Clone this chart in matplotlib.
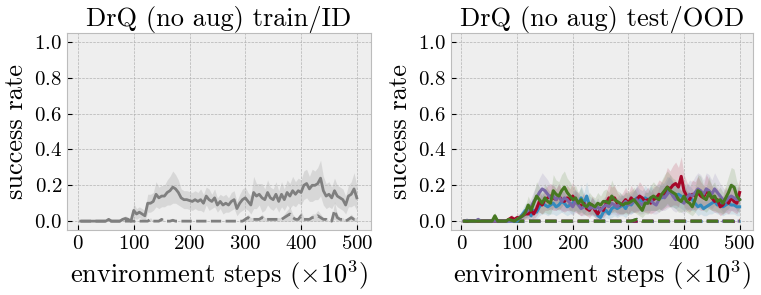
import numpy as np
import matplotlib.pyplot as plt

plt.style.use('bmh')
plt.rcParams['font.family'] = 'serif'
plt.rcParams['font.serif'] = ['cmr10']
plt.rcParams['mathtext.fontset'] = 'cm'
plt.rcParams['axes.formatter.use_mathtext'] = True

steps = np.arange(5, 505, 5)

# train / ID (gray)
train_mean = [0, 0, 0, 0, 0, 0, 0, 0, 0, 0,
              0.01, 0, 0, 0, 0, 0.01, 0.015, 0.01, 0, 0.06,
              0.04, 0.05, 0.04, 0.03, 0.10, 0.10, 0.11, 0.15, 0.13, 0.14,
              0.14, 0.16, 0.17, 0.19, 0.18, 0.16, 0.13, 0.12, 0.12, 0.115,
              0.11, 0.12, 0.11, 0.12, 0.10, 0.14, 0.12, 0.11, 0.13, 0.09,
              0.11, 0.09, 0.10, 0.09, 0.11, 0.12, 0.07, 0.10, 0.12, 0.13,
              0.11, 0.09, 0.16, 0.14, 0.15, 0.13, 0.12, 0.16, 0.13, 0.12,
              0.15, 0.11, 0.15, 0.12, 0.16, 0.14, 0.17, 0.15, 0.17, 0.16,
              0.20, 0.21, 0.18, 0.20, 0.20, 0.21, 0.24, 0.17, 0.14, 0.15,
              0.13, 0.17, 0.14, 0.13, 0.12, 0.09, 0.14, 0.15, 0.18, 0.13]
train_std = [0, 0, 0, 0, 0, 0, 0, 0, 0, 0,
             0.01, 0, 0, 0, 0, 0.01, 0.015, 0.01, 0, 0.04,
             0.03, 0.03, 0.03, 0.03, 0.05, 0.05, 0.05, 0.07, 0.06, 0.06,
             0.06, 0.07, 0.08, 0.09, 0.08, 0.07, 0.05, 0.05, 0.05, 0.05,
             0.05, 0.05, 0.05, 0.06, 0.05, 0.05, 0.06, 0.04, 0.05, 0.04,
             0.04, 0.05, 0.05, 0.04, 0.05, 0.05, 0.04, 0.05, 0.06, 0.06,
             0.05, 0.05, 0.09, 0.07, 0.06, 0.08, 0.06, 0.07, 0.06, 0.06,
             0.07, 0.06, 0.07, 0.06, 0.07, 0.07, 0.08, 0.07, 0.07, 0.07,
             0.08, 0.08, 0.07, 0.09, 0.08, 0.09, 0.10, 0.08, 0.07, 0.07,
             0.06, 0.07, 0.06, 0.06, 0.06, 0.05, 0.06, 0.07, 0.09, 0.07]
train_dash = [0] * 25 + [0.01, 0, 0, 0, 0.01,
              0, 0, 0, 0.005, 0, 0, 0, 0, 0, 0,
              0, 0, 0, 0, 0, 0, 0, 0, 0, 0,
              0, 0, 0, 0, 0, 0, 0, 0, 0, 0.01,
              0.02, 0.01, 0.01, 0.01, 0.01, 0.02, 0.01, 0.01, 0.01, 0.01,
              0.01, 0.01, 0.01, 0.02, 0.03, 0.04, 0.02, 0.01, 0.01, 0.03,
              0.01, 0.01, 0.01, 0.02, 0.02, 0.03, 0.02, 0.01, 0.01, 0.0,
              0.0, 0.06, 0.02, 0.01, 0.01, 0.0, 0.01, 0.02, 0.01, 0.01]
train_dash_std = [0] * 25 + [0.01, 0, 0, 0, 0.01,
                  0, 0, 0, 0.005, 0, 0, 0, 0, 0, 0,
                  0, 0, 0, 0, 0, 0, 0, 0, 0, 0,
                  0, 0, 0, 0, 0, 0, 0, 0, 0, 0.01,
                  0.02, 0.01, 0.01, 0.01, 0.01, 0.02, 0.01, 0.01, 0.01, 0.01,
                  0.01, 0.01, 0.01, 0.02, 0.03, 0.04, 0.02, 0.01, 0.01, 0.03,
                  0.01, 0.01, 0.01, 0.02, 0.02, 0.03, 0.02, 0.01, 0.01, 0.0,
                  0.0, 0.05, 0.02, 0.01, 0.01, 0.0, 0.01, 0.02, 0.01, 0.01]

# test / OOD
blue_mean = [0] * 20 + [0.02, 0.04, 0.06, 0.05, 0.03, 0.06, 0.05, 0.08, 0.10, 0.09,
             0.08, 0.09, 0.10, 0.08, 0.09, 0.11, 0.10, 0.08, 0.09, 0.10,
             0.12, 0.10, 0.13, 0.10, 0.14, 0.09, 0.08, 0.07, 0.03, 0.02,
             0.05, 0.06, 0.04, 0.07, 0.08, 0.07, 0.08, 0.09, 0.07, 0.10,
             0.09, 0.11, 0.13, 0.12, 0.11, 0.13, 0.12, 0.13, 0.12, 0.13,
             0.14, 0.13, 0.15, 0.17, 0.16, 0.15, 0.14, 0.15, 0.14, 0.13,
             0.14, 0.13, 0.12, 0.10, 0.08, 0.09, 0.07, 0.08, 0.09, 0.10,
             0.11, 0.09, 0.10, 0.08, 0.09, 0.10, 0.09, 0.09, 0.08, 0.08]
red_mean = [0] * 16 + [0.01, 0.02, 0.01, 0.02,
            0.02, 0.03, 0.04, 0.04, 0.06, 0.04, 0.07, 0.11, 0.09, 0.12,
            0.13, 0.14, 0.13, 0.12, 0.14, 0.12, 0.11, 0.13, 0.12, 0.14,
            0.11, 0.10, 0.08, 0.10, 0.07, 0.06, 0.09, 0.06, 0.04, 0.07,
            0.06, 0.10, 0.13, 0.12, 0.13, 0.10, 0.09, 0.10, 0.12, 0.10,
            0.13, 0.11, 0.12, 0.14, 0.13, 0.11, 0.12, 0.10, 0.12, 0.13,
            0.15, 0.14, 0.16, 0.19, 0.18, 0.20, 0.21, 0.19, 0.25, 0.17,
            0.14, 0.12, 0.15, 0.14, 0.16, 0.14, 0.13, 0.17, 0.15, 0.13,
            0.11, 0.12, 0.08, 0.09, 0.12, 0.10, 0.13, 0.11, 0.10, 0.16]
purple_mean = [0, 0.005, 0, 0, 0, 0.01, 0, 0, 0, 0,
               0, 0, 0, 0, 0, 0, 0, 0, 0, 0.01,
               0.02, 0.03, 0.05, 0.06, 0.08, 0.11, 0.13, 0.16, 0.18, 0.17,
               0.15, 0.13, 0.14, 0.12, 0.14, 0.11, 0.13, 0.12, 0.10, 0.08,
               0.11, 0.09, 0.07, 0.08, 0.09, 0.07, 0.08, 0.07, 0.08, 0.06,
               0.08, 0.09, 0.08, 0.10, 0.09, 0.08, 0.10, 0.09, 0.11, 0.09,
               0.10, 0.11, 0.12, 0.10, 0.09, 0.11, 0.10, 0.12, 0.10, 0.09,
               0.12, 0.14, 0.13, 0.15, 0.17, 0.14, 0.12, 0.13, 0.11, 0.10,
               0.13, 0.15, 0.14, 0.16, 0.18, 0.17, 0.15, 0.18, 0.17, 0.15,
               0.18, 0.16, 0.14, 0.12, 0.11, 0.13, 0.14, 0.13, 0.12, 0.12]
green_mean = [0, 0, 0, 0, 0, 0, 0, 0, 0, 0,
              0, 0.03, 0, 0, 0, 0, 0.01, 0.005, 0, 0.01,
              0.02, 0.03, 0.05, 0.09, 0.06, 0.10, 0.14, 0.12, 0.10, 0.13,
              0.11, 0.10, 0.17, 0.15, 0.14, 0.17, 0.19, 0.16, 0.14, 0.12,
              0.13, 0.10, 0.12, 0.09, 0.08, 0.10, 0.09, 0.08, 0.10, 0.09,
              0.11, 0.11, 0.10, 0.14, 0.12, 0.11, 0.10, 0.09, 0.10, 0.10,
              0.11, 0.12, 0.10, 0.08, 0.06, 0.10, 0.10, 0.13, 0.14, 0.13,
              0.12, 0.15, 0.17, 0.19, 0.17, 0.16, 0.15, 0.12, 0.11, 0.14,
              0.11, 0.10, 0.08, 0.12, 0.17, 0.16, 0.13, 0.12, 0.16, 0.13,
              0.14, 0.11, 0.12, 0.10, 0.13, 0.16, 0.20, 0.19, 0.14, 0.12]

blue_std = [0] * 20 + [0.02, 0.03, 0.04, 0.04, 0.03, 0.04, 0.04, 0.05, 0.06, 0.05,
            0.05, 0.05, 0.06, 0.05, 0.05, 0.06, 0.06, 0.05, 0.05, 0.06,
            0.06, 0.05, 0.07, 0.06, 0.08, 0.05, 0.05, 0.05, 0.03, 0.02,
            0.04, 0.04, 0.03, 0.05, 0.05, 0.05, 0.05, 0.06, 0.05, 0.06,
            0.05, 0.06, 0.07, 0.06, 0.06, 0.07, 0.06, 0.07, 0.06, 0.07,
            0.07, 0.07, 0.07, 0.08, 0.08, 0.07, 0.07, 0.07, 0.07, 0.07,
            0.07, 0.07, 0.06, 0.05, 0.05, 0.05, 0.04, 0.05, 0.05, 0.06,
            0.06, 0.05, 0.06, 0.05, 0.05, 0.06, 0.05, 0.05, 0.05, 0.05]
red_std = [0] * 16 + [0.01, 0.02, 0.01, 0.02,
           0.02, 0.02, 0.03, 0.03, 0.04, 0.03, 0.04, 0.06, 0.05, 0.06,
           0.07, 0.07, 0.07, 0.06, 0.07, 0.06, 0.06, 0.07, 0.06, 0.08,
           0.06, 0.06, 0.05, 0.06, 0.04, 0.04, 0.05, 0.04, 0.03, 0.05,
           0.04, 0.06, 0.08, 0.07, 0.07, 0.06, 0.05, 0.06, 0.07, 0.06,
           0.07, 0.06, 0.07, 0.08, 0.07, 0.06, 0.07, 0.06, 0.07, 0.07,
           0.08, 0.08, 0.09, 0.11, 0.10, 0.11, 0.12, 0.11, 0.11, 0.09,
           0.08, 0.07, 0.08, 0.08, 0.09, 0.08, 0.07, 0.09, 0.08, 0.07,
           0.06, 0.07, 0.05, 0.05, 0.07, 0.06, 0.07, 0.06, 0.06, 0.08]
purple_std = [0, 0.005, 0, 0, 0, 0.01, 0, 0, 0, 0,
              0, 0, 0, 0, 0, 0, 0, 0, 0, 0.01,
              0.02, 0.02, 0.03, 0.04, 0.05, 0.06, 0.07, 0.08, 0.09, 0.08,
              0.08, 0.07, 0.07, 0.06, 0.07, 0.06, 0.07, 0.06, 0.05, 0.05,
              0.06, 0.05, 0.04, 0.05, 0.05, 0.04, 0.05, 0.04, 0.05, 0.04,
              0.05, 0.05, 0.05, 0.06, 0.05, 0.05, 0.06, 0.05, 0.06, 0.05,
              0.06, 0.06, 0.07, 0.06, 0.05, 0.06, 0.06, 0.07, 0.06, 0.05,
              0.07, 0.08, 0.07, 0.08, 0.09, 0.08, 0.07, 0.07, 0.06, 0.06,
              0.07, 0.08, 0.08, 0.09, 0.09, 0.09, 0.08, 0.09, 0.09, 0.08,
              0.09, 0.08, 0.07, 0.07, 0.06, 0.07, 0.08, 0.07, 0.07, 0.07]
green_std = [0, 0, 0, 0, 0, 0, 0, 0, 0, 0,
             0, 0.02, 0, 0, 0, 0, 0.01, 0.005, 0, 0.01,
             0.02, 0.02, 0.04, 0.05, 0.04, 0.06, 0.08, 0.07, 0.06, 0.08,
             0.07, 0.06, 0.09, 0.08, 0.08, 0.09, 0.09, 0.08, 0.08, 0.07,
             0.07, 0.06, 0.07, 0.05, 0.05, 0.06, 0.05, 0.05, 0.06, 0.05,
             0.06, 0.07, 0.06, 0.09, 0.07, 0.06, 0.06, 0.05, 0.06, 0.06,
             0.06, 0.07, 0.06, 0.05, 0.04, 0.06, 0.06, 0.07, 0.08, 0.07,
             0.07, 0.08, 0.09, 0.09, 0.09, 0.08, 0.08, 0.07, 0.06, 0.08,
             0.06, 0.06, 0.05, 0.07, 0.09, 0.09, 0.07, 0.07, 0.09, 0.07,
             0.08, 0.06, 0.07, 0.06, 0.07, 0.09, 0.10, 0.10, 0.08, 0.07]

blue_dash = [0] * 100
red_dash = [0] * 60 + [0, 0, 0, 0.005, 0, 0, 0, 0, 0, 0,
                       0, 0, 0, 0, 0, 0, 0, 0, 0, 0,
                       0, 0, 0, 0, 0, 0, 0, 0, 0, 0,
                       0, 0, 0, 0, 0, 0, 0, 0, 0.005, 0.005]
purple_dash = [0] * 60 + [0, 0.005, 0.01, 0.005, 0, 0, 0, 0, 0, 0,
                          0, 0, 0, 0, 0, 0, 0, 0, 0, 0,
                          0, 0, 0, 0, 0, 0, 0, 0, 0, 0,
                          0, 0, 0.01, 0, 0, 0, 0, 0.005, 0, 0]
green_dash = [0] * 60 + [0, 0.005, 0.01, 0.005, 0, 0, 0, 0, 0, 0,
                         0, 0, 0, 0, 0, 0, 0, 0, 0, 0,
                         0, 0, 0, 0, 0, 0, 0, 0, 0, 0,
                         0, 0, 0, 0, 0, 0, 0, 0, 0, 0]

fig = plt.figure(figsize=(7.61, 2.95), dpi=100)
ax1 = fig.add_axes([0.088, 0.22, 0.399, 0.668])
ax2 = fig.add_axes([0.592, 0.22, 0.398, 0.668])

gray = '#7f7f7f'
m = np.array(train_mean); s = np.array(train_std)
ax1.fill_between(steps, m - s, m + s, color=gray, alpha=0.2, lw=0)
ax1.plot(steps, m, color=gray, lw=2)
m = np.array(train_dash); s = np.array(train_dash_std)
ax1.fill_between(steps, m - s, m + s, color=gray, alpha=0.2, lw=0)
ax1.plot(steps, m, color=gray, lw=2, ls='--')

series = [(blue_mean, blue_std, blue_dash, '#348ABD'),
          (red_mean, red_std, red_dash, '#A60628'),
          (purple_mean, purple_std, purple_dash, '#7A68A6'),
          (green_mean, green_std, green_dash, '#467821')]
for mean, std, dash, c in series:
    m = np.array(mean); s = np.array(std)
    ax2.fill_between(steps, m - s, m + s, color=c, alpha=0.15, lw=0)
for mean, std, dash, c in series:
    ax2.plot(steps, dash, color=c, lw=2.2, ls='--')
for mean, std, dash, c in series:
    ax2.plot(steps, mean, color=c, lw=2.2)

titles = ['DrQ (no aug) train/ID', 'DrQ (no aug) test/OOD']
for ax, t in zip([ax1, ax2], titles):
    ax.set_ylim(-0.05, 1.05)
    ax.set_xticks([0, 100, 200, 300, 400, 500])
    ax.set_yticks([0.0, 0.2, 0.4, 0.6, 0.8, 1.0])
    ax.tick_params(labelsize=15)
    ax.set_title(t, fontsize=19, pad=3)
    ax.set_ylabel('success rate', fontsize=19, labelpad=4)
    ax.set_xlabel(r'environment steps $(\times 10^3)$', fontsize=19, labelpad=4)

fig.savefig('out.png', dpi=100)
